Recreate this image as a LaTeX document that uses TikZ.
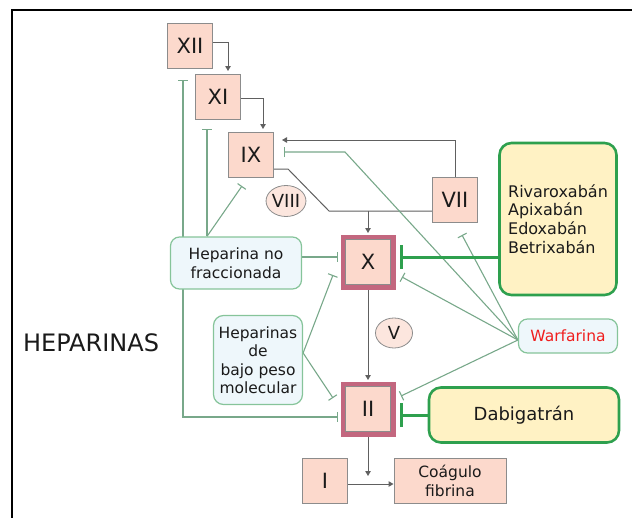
\documentclass[tikz,border=0pt]{standalone}
\usepackage{fontspec}
\setmainfont{DejaVu Sans}
\usetikzlibrary{arrows.meta,shapes.geometric}
\pgfdeclarelayer{bg}
\pgfsetlayers{bg,main}

\definecolor{ink}{HTML}{1A1A1A}
\definecolor{factorfill}{HTML}{FCD9CC}
\definecolor{factorline}{HTML}{8C8C8C}
\definecolor{mauve}{HTML}{C3677F}
\definecolor{cofill}{HTML}{FCE6DE}
\definecolor{hepfill}{HTML}{EEF7FB}
\definecolor{hepline}{HTML}{86C49A}
\definecolor{drugfill}{HTML}{FFF2C4}
\definecolor{drugline}{HTML}{2EA04E}
\definecolor{actline}{HTML}{606060}
\definecolor{inhline}{HTML}{78A88A}
\definecolor{warfred}{HTML}{F01E1E}

\begin{document}
\begin{tikzpicture}[x=1pt,y=-1pt,
  every node/.style={text=ink, font=\fontsize{15.5}{18.5}\selectfont, inner sep=0pt, align=center},
  factorbox/.style={rectangle, draw=factorline, line width=1pt, fill=factorfill,
    minimum width=45pt, minimum height=45pt, font=\fontsize{21}{24}\selectfont},
  keyfactor/.style={factorbox, preaction={draw=mauve, line width=10pt}},
  cofactorbox/.style={ellipse, draw=factorline, line width=0.8pt, fill=cofill,
    minimum width=38pt, minimum height=31pt, font=\fontsize{18}{20}\selectfont},
  hepbox/.style={rectangle, rounded corners=9pt, draw=hepline, line width=1.2pt, fill=hepfill},
  drugbox/.style={rectangle, rounded corners=12pt, draw=drugline, line width=2.6pt, fill=drugfill},
  act/.style={draw=actline, line width=1pt, -{Triangle[length=5pt,width=5.5pt]}},
  inh/.style={draw=inhline, line width=1.1pt, -{Bar[width=10pt]}},
  inhboth/.style={draw=inhline, line width=1.1pt, {Bar[width=10pt]}-{Bar[width=10pt]}},
  drugblock/.style={draw=drugline, line width=3pt, -{Bar[width=24pt]}}
]
\useasboundingbox (0,0) rectangle (632,517);

% frame
\draw[line width=2pt, black] (12,530) -- (12,10) -- (650,10);

% coagulation factors
\node[factorbox] (XII) at (190,46) {XII};
\node[factorbox] (XI) at (218,97) {XI};
\node[factorbox] (IX) at (251,155) {IX};
\node[factorbox] (VII) at (455,200) {VII};
\node[keyfactor] (X) at (368,262) {X};
\node[keyfactor] (II) at (368,409) {II};
\node[factorbox] (I) at (325,481) {I};
\node[factorbox, minimum width=112pt, font=\fontsize{15.5}{18.5}\selectfont] (coag) at (450,481) {Coágulo\\fibrina};

% cofactors
\node[cofactorbox] (VIII) at (286,201) {VIII};
\node[cofactorbox, minimum width=37pt, minimum height=30pt] (V) at (394,333) {V};

% drugs
\node[hepbox, minimum width=131pt, minimum height=52pt] (hnf) at (236,263) {Heparina no\\fraccionada};
\node[hepbox, minimum width=89pt, minimum height=89pt, rounded corners=10pt] (lmwh) at (258,360) {Heparinas\\de\\bajo peso\\molecular};
\node[drugbox, minimum width=117pt, minimum height=152pt, align=left, font=\fontsize{16}{18.7}\selectfont] (riva) at (558,219) {Rivaroxabán\\Apixabán\\Edoxabán\\Betrixabán};
\node[hepbox, minimum width=99pt, minimum height=34pt, text=warfred] (warf) at (568,336) {Warfarina};
\node[drugbox, minimum width=190pt, minimum height=55pt, font=\fontsize{18}{21}\selectfont] (dabi) at (524,415) {Dabigatrán};

\node[font=\fontsize{24}{28}\selectfont] (hep) at (91,343) {HEPARINAS};

\begin{pgfonlayer}{bg}
  % activation cascade
  \draw[act] ([yshift=4]XII.east) -| ([xshift=10,yshift=3]XI.north);
  \draw[act] ([yshift=-1]XI.east) -| ([xshift=12,yshift=3]IX.north);
  \coordinate (tenase) at ([yshift=-11]VII.west);
  \draw[actline, line width=1pt] ([yshift=-14]IX.east) -- ++(14,0) -- ++(41,42) -- (tenase);
  \draw[act] (X.north |- tenase) -- ([yshift=6]X.north);
  \draw[act] (VII.north) |- ([xshift=8,yshift=15]IX.east);
  \draw[act] ([yshift=-5]X.south) -- ([yshift=6]II.north);
  \coordinate (clot) at (368,476);
  \draw[act] ([yshift=-5]II.south) -- (clot);
  \draw[act] ([yshift=-3]I.east) -- ([yshift=-3]coag.west);

  % unfractionated heparin
  \draw[inh] ([xshift=-29]hnf.north) -- ([xshift=-11,yshift=-9]XI.south);
  \draw[inh] ([xshift=-29]hnf.north) -- ([xshift=-9,yshift=-8]IX.south);
  \draw[inhboth] ([xshift=-7,yshift=-11]XII.south) |- ([xshift=-7,yshift=-8]II.west);
  \draw[inh] ([yshift=6]hnf.east) -- ([xshift=-7,yshift=5]X.west);

  % low molecular weight heparins
  \draw[inh] ([yshift=7]lmwh.east) -- ([xshift=-12,yshift=10]X.south west);
  \draw[inh] ([yshift=7]lmwh.east) -- ([xshift=-12,yshift=-12]II.north west);

  % warfarin
  \coordinate (wbend) at (345,152);
  \draw[inh] ([yshift=-4]warf.west) -- ([xshift=10,yshift=-10]II.north east);
  \draw[inh] ([yshift=-4]warf.west) -- ([xshift=11,yshift=8]X.south east);
  \draw[inh] ([yshift=-4]warf.west) -- ([xshift=7,yshift=-12]VII.south);
  \draw[inh] ([yshift=-4]warf.west) -- (wbend) -- ([xshift=10,yshift=3]IX.east);

  % direct inhibitors
  \draw[drugblock] ([yshift=-38]riva.west) -- ([xshift=9,yshift=5]X.east);
  \draw[drugblock] (dabi.west) -- ([xshift=9,yshift=-6]II.east);
\end{pgfonlayer}
\end{tikzpicture}
\end{document}
